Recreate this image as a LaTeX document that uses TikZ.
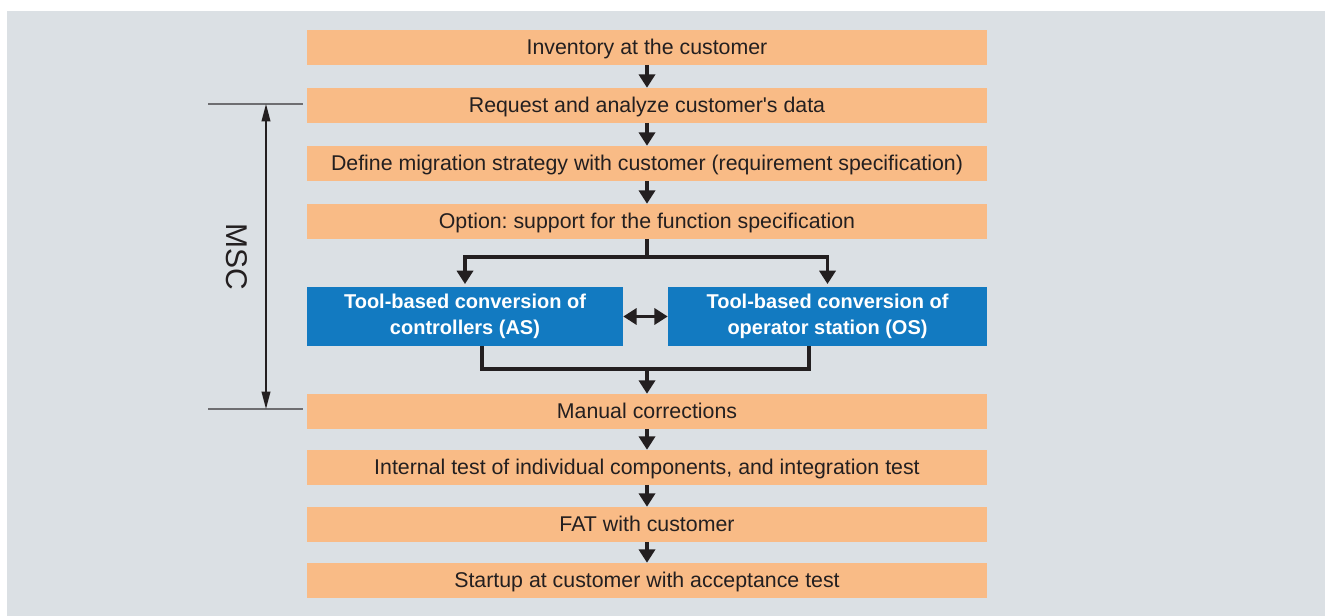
\documentclass[tikz,border=0pt]{standalone}
\usepackage{fontspec}
\setmainfont{Liberation Sans}
\frenchspacing
\usetikzlibrary{arrows.meta,calc}
\definecolor{bggray}{RGB}{219,224,228}
\definecolor{boxorange}{RGB}{249,187,134}
\definecolor{boxblue}{RGB}{18,122,193}
\definecolor{ink}{RGB}{35,31,32}
\definecolor{tickgray}{RGB}{110,110,113}
\begin{document}
\begin{tikzpicture}[x=0.75pt,y=-0.75pt,
  stepbox/.style={fill=boxorange, minimum width=510pt, minimum height=25.9pt, inner sep=0pt, text=ink, text height=11.46pt, text depth=0pt, font=\fontsize{16}{19}\selectfont},
  convbox/.style={fill=boxblue, minimum height=44.25pt, inner sep=0pt, text=white, align=center, font=\fontsize{15}{19.5}\selectfont\bfseries},
  flow/.style={draw=ink, line width=2.9pt, -{Triangle[width=12pt,length=10pt]}},
  link/.style={draw=ink, line width=2.9pt},
  both/.style={draw=ink, line width=2.9pt, {Triangle[width=12pt,length=10pt]}-{Triangle[width=12pt,length=10pt]}},
  span/.style={draw=ink, line width=1.2pt, {Triangle[width=6.5pt,length=13pt]}-{Triangle[width=6.5pt,length=13pt]}},
  tick/.style={draw=tickgray, line width=1.1pt}
]
\useasboundingbox (0,0) rectangle (1325,616);
\fill[bggray] (7,11) rectangle (1325,616);

\node[stepbox] (s1) at (647,47.3) {Inventory at the customer};
\node[stepbox] (s2) at (647,105.3) {Request and analyze customer\textquotesingle s data};
\node[stepbox] (s3) at (647,163.3) {Define migration strategy with customer (requirement specification)};
\node[stepbox] (s4) at (647,221.3) {Option: support for the function specification};
\node[convbox, minimum width=237pt] (as) at (465,316.5) {Tool-based conversion of\\controllers (AS)};
\node[convbox, minimum width=239.25pt] (os) at (827.5,316.5) {Tool-based conversion of\\operator station (OS)};
\node[stepbox] (s5) at (647,411.3) {Manual corrections};
\node[stepbox] (s6) at (647,467.3) {Internal test of individual components, and integration test};
\node[stepbox] (s7) at (647,524.3) {FAT with customer};
\node[stepbox] (s8) at (647,580.3) {Startup at customer with acceptance test};

\draw[flow] (s1) -- (s2);
\draw[flow] (s2) -- (s3);
\draw[flow] (s3) -- (s4);
\coordinate (split) at (647,257);
\draw[link] (s4.south) -- (split);
\draw[flow, shorten >=2pt] (split) -| (as.north);
\draw[flow, shorten >=2pt] (split) -| (os.north);
\draw[both] (as) -- (os);
\coordinate (join) at (647,369);
\draw[link] ($(as.south)+(17,0)$) -- ++(0,22.5) -| ($(os.south)+(-18.5,0)$);
\draw[flow] (join) -- (s5.north);
\draw[flow] (s5) -- (s6);
\draw[flow] (s6) -- (s7);
\draw[flow] (s7) -- (s8);

\coordinate (tl1) at (208,104);
\coordinate (tr1) at (303,104);
\coordinate (tl2) at (208,409);
\coordinate (tr2) at (303,409);
\coordinate (mtop) at (266,104);
\coordinate (mbot) at (266,409);
\draw[tick] (tl1) -- (tr1);
\draw[tick] (tl2) -- (tr2);
\draw[span] (mtop) -- (mbot);
\node[rotate=-90, text=ink, font=\fontsize{22.5}{26}\selectfont] (msc) at (237,257) {MSC};
\end{tikzpicture}
\end{document}
